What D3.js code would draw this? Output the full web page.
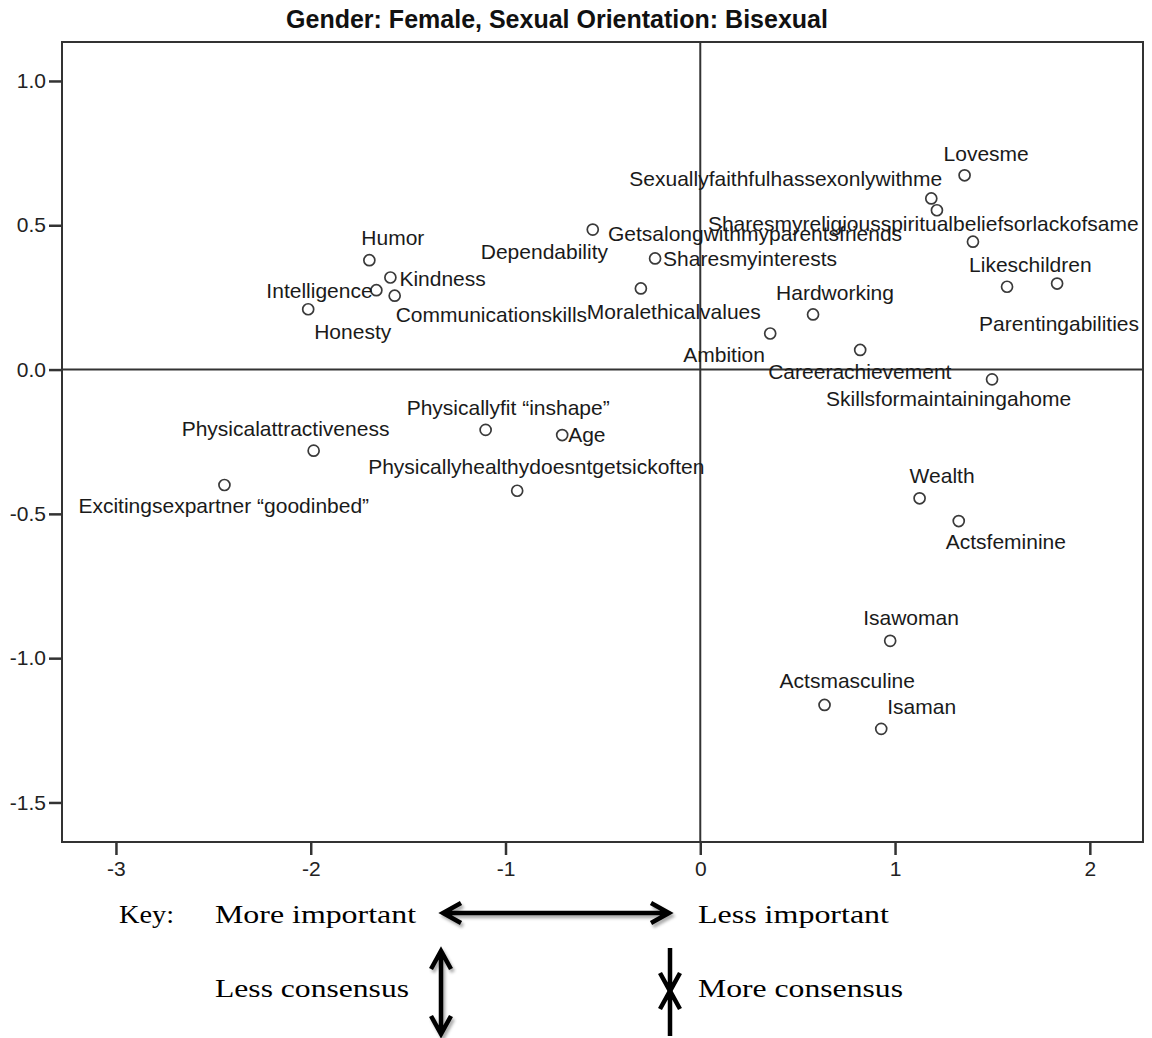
<!DOCTYPE html>
<html>
<head>
<meta charset="utf-8">
<script src="https://cdn.jsdelivr.net/npm/d3@7"></script>
<style>
  body { margin: 0; background: #fff; }
  svg { display: block; }
</style>
</head>
<body>
<div id="chart"></div>
<script>
// --- data ---
const chartTitle = 'Gender: Female, Sexual Orientation: Bisexual';

const attributes = [
  'Lovesme', 'Sexuallyfaithfulhassexonlywithme', 'Sharesmyreligiousspiritualbeliefsorlackofsame',
  'Getsalongwithmyparentsfriends', 'Dependability', 'Sharesmyinterests', 'Likeschildren',
  'Parentingabilities', 'Moralethicalvalues', 'Hardworking', 'Ambition', 'Careerachievement',
  'Skillsformaintainingahome', 'Humor', 'Kindness', 'Intelligence', 'Communicationskills',
  'Honesty', 'Physicallyfit \u201cinshape\u201d', 'Age', 'Physicalattractiveness',
  'Physicallyhealthydoesntgetsickoften', 'Excitingsexpartner \u201cgoodinbed\u201d', 'Wealth',
  'Actsfeminine', 'Isawoman', 'Actsmasculine', 'Isaman'
];

const dimension1 = [1.357, 1.186, 1.215, 1.400, -0.552, -0.232, 1.575, 1.832, -0.305, 0.579,
  0.359, 0.821, 1.498, -1.699, -1.591, -1.663, -1.569, -2.013, -1.102, -0.709, -1.985,
  -0.940, -2.443, 1.126, 1.327, 0.975, 0.638, 0.929];

const dimension2 = [0.673, 0.593, 0.552, 0.443, 0.485, 0.385, 0.287, 0.298, 0.281, 0.191,
  0.125, 0.068, -0.034, 0.379, 0.319, 0.275, 0.256, 0.209, -0.209, -0.227, -0.281,
  -0.420, -0.400, -0.446, -0.525, -0.940, -1.162, -1.245];

const xTicks = [-3, -2, -1, 0, 1, 2];
const yTicks = [1.0, 0.5, 0.0, -0.5, -1.0, -1.5];

const keyLabels = ['Key:', 'More important', 'Less important', 'Less consensus', 'More consensus'];

// --- layout (label placement next to each point, px: left edge / vertical centre) ---
const labelOffsets = [
  [-21, -22], [-302, -20], [-229, 13], [-365, -8], [-112, 22], [8, 0], [-38, -22],
  [-78, 40], [-54, 23], [-37, -22], [-87, 21], [-92, 22], [-166, 19], [-8, -23],
  [9, 1], [-110, 0], [1, 19], [6, 22], [-79, -22], [6, 0], [-132, -22], [-149, -24],
  [-146, 21], [-10, -23], [-13, 21], [-27, -23], [-45, -24], [6, -22]
];

const W = 1152, H = 1038;
const margin = { top: 42, right: 9, bottom: 196, left: 62 };
const innerW = W - margin.left - margin.right;
const innerH = H - margin.top - margin.bottom;

const svg = d3.select('#chart').append('svg')
  .attr('width', W).attr('height', H)
  .attr('viewBox', [0, 0, W, H]);

const x = d3.scaleLinear().domain([-3.277, 2.273]).range([0, innerW]);
const y = d3.scaleLinear().domain([-1.637, 1.135]).range([innerH, 0]);

// title
svg.append('text')
  .attr('x', 557).attr('y', 28)
  .attr('text-anchor', 'middle')
  .attr('font-family', '"Liberation Sans", Arial, sans-serif')
  .attr('font-size', 25).attr('font-weight', 'bold')
  .attr('fill', '#111')
  .text(chartTitle);

const g = svg.append('g').attr('transform', `translate(${margin.left},${margin.top})`);

// axes
const fontFamily = '"Liberation Sans", Arial, sans-serif';
const yAxis = g.append('g')
  .call(d3.axisLeft(y).tickValues(yTicks).tickFormat(d => d.toFixed(1)).tickSize(13).tickPadding(3));
const xAxis = g.append('g')
  .attr('transform', `translate(0,${innerH})`)
  .call(d3.axisBottom(x).tickValues(xTicks).tickFormat(d => String(d)).tickSize(13).tickPadding(6));

[xAxis, yAxis].forEach(ax => {
  ax.select('.domain').remove();
  ax.selectAll('.tick line').attr('stroke', '#333').attr('stroke-width', 2.5);
  ax.selectAll('.tick text')
    .attr('font-family', fontFamily).attr('font-size', 21).attr('fill', '#222');
});

// frame + zero reference lines
g.append('rect')
  .attr('x', 0).attr('y', 0).attr('width', innerW).attr('height', innerH)
  .attr('fill', 'none').attr('stroke', '#333').attr('stroke-width', 2);

g.append('line')
  .attr('x1', x(0)).attr('x2', x(0)).attr('y1', 0).attr('y2', innerH)
  .attr('stroke', '#333').attr('stroke-width', 2);
g.append('line')
  .attr('x1', 0).attr('x2', innerW).attr('y1', y(0)).attr('y2', y(0))
  .attr('stroke', '#333').attr('stroke-width', 2);

// points
const nodes = attributes.map((name, i) => ({
  name, d1: dimension1[i], d2: dimension2[i], off: labelOffsets[i]
}));

const pts = g.selectAll('.pt').data(nodes).enter().append('g')
  .attr('class', 'pt')
  .attr('transform', d => `translate(${x(d.d1)},${y(d.d2)})`);

pts.append('circle')
  .attr('r', 5.5)
  .attr('fill', 'none')
  .attr('stroke', '#3a3a3a')
  .attr('stroke-width', 1.7);

pts.append('text')
  .attr('x', d => d.off[0])
  .attr('y', d => d.off[1])
  .attr('dy', '0.35em')
  .attr('font-family', fontFamily)
  .attr('font-size', 21)
  .attr('fill', '#1a1a1a')
  .text(d => d.name);

// --- key under the chart ---
const defs = svg.append('defs');
defs.append('filter').attr('id', 'shadow')
  .attr('x', '-20%').attr('y', '-20%').attr('width', '140%').attr('height', '140%')
  .append('feGaussianBlur').attr('stdDeviation', 1.5);

const key = svg.append('g')
  .attr('font-family', '"Liberation Serif", "Times New Roman", serif')
  .attr('font-size', 26).attr('fill', '#000');

const keyText = [
  { t: keyLabels[0], x: 119, y: 923, w: 55 },
  { t: keyLabels[1], x: 215, y: 923, w: 201 },
  { t: keyLabels[2], x: 698, y: 923, w: 191 },
  { t: keyLabels[3], x: 215, y: 997, w: 194 },
  { t: keyLabels[4], x: 698, y: 997, w: 205 }
];
key.selectAll('text').data(keyText).enter().append('text')
  .attr('x', d => d.x).attr('y', d => d.y)
  .attr('textLength', d => d.w).attr('lengthAdjust', 'spacingAndGlyphs')
  .text(d => d.t);

function chevron(tx, ty, dir) {
  // dir: 'l','r','u','d' – open arrow head with tip at (tx,ty)
  const L = 18, Hh = 10;
  if (dir === 'l') return `M${tx + L},${ty - Hh}L${tx},${ty}L${tx + L},${ty + Hh}`;
  if (dir === 'r') return `M${tx - L},${ty - Hh}L${tx},${ty}L${tx - L},${ty + Hh}`;
  if (dir === 'u') return `M${tx - Hh},${ty + L}L${tx},${ty}L${tx + Hh},${ty + L}`;
  return `M${tx - Hh},${ty - L}L${tx},${ty}L${tx + Hh},${ty - L}`;
}

const arrowPaths = [
  `M443,913L669,913` + chevron(443, 913, 'l') + chevron(669, 913, 'r'),
  `M441,951L441,1034` + chevron(441, 951, 'u') + chevron(441, 1034, 'd'),
  `M670,948L670,991` + chevron(670, 991, 'd'),
  `M670,1036L670,991` + chevron(670, 991, 'u')
];

const shadows = [true, true, false, false];

key.selectAll('path.shadow').data(arrowPaths.filter((p, i) => shadows[i])).enter().append('path')
  .attr('class', 'shadow')
  .attr('d', d => d)
  .attr('transform', 'translate(2,3)')
  .attr('fill', 'none').attr('stroke', '#888').attr('stroke-width', 4.5)
  .attr('stroke-linejoin', 'miter').attr('opacity', 0.7)
  .attr('filter', 'url(#shadow)');

key.selectAll('path.arrow').data(arrowPaths).enter().append('path')
  .attr('class', 'arrow')
  .attr('d', d => d)
  .attr('fill', 'none').attr('stroke', '#000').attr('stroke-width', 4.5)
  .attr('stroke-linejoin', 'miter');
</script>
</body>
</html>
